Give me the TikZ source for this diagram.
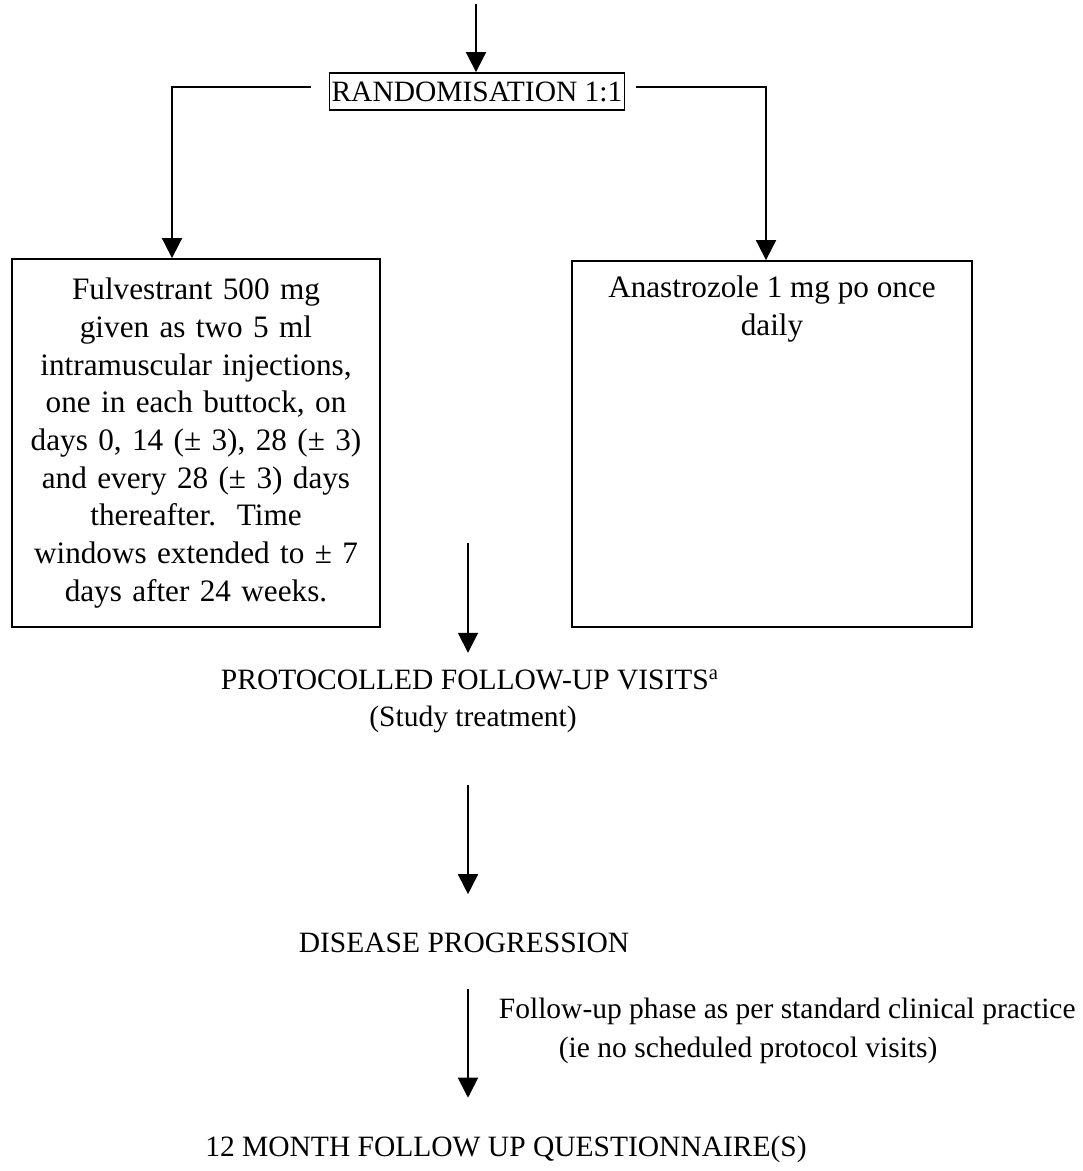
\documentclass[tikz,border=0pt]{standalone}
\usepackage{fontspec}
\setmainfont{Liberation Serif}
\usetikzlibrary{positioning,arrows.meta}

\begin{document}
\begin{tikzpicture}[x=0.5pt,y=-0.5pt,line width=0.9pt,
    >={Triangle[width=10pt,length=10pt]},
    every node/.style={font={\fontsize{14.75pt}{19pt}\selectfont},inner sep=0pt},
    randbox/.style={draw,inner xsep=1pt,minimum height=18.5pt},
    armbox/.style={draw,align=center,font={\fontsize{15.6pt}{18.85pt}\selectfont}}]
  \useasboundingbox (0,0) rectangle (1082,1171);
  \coordinate (entry) at (476,4);
  \node[randbox] (rand) at (477,91.5) {RANDOMISATION 1:1};
  \draw[->] (entry) -- (rand.north -| entry);
  \coordinate (lstub) at (311,87);
  \coordinate (rstub) at (636,87);
  \coordinate (lturn) at (172,87);
  \coordinate (rturn) at (766,87);
  \node[armbox,minimum width=184pt,minimum height=184pt,text width=176pt] (fulv) at (196,443)
    {Fulvestrant 500 mg\\ given as two 5 ml\\ intramuscular injections,\\ one in each buttock, on\\
     days 0, 14 (± 3), 28 (± 3)\\ and every 28 (± 3) days\\ thereafter.\ \ Time\\
     windows extended to ± 7\\ days after 24 weeks.};
  \node[draw,minimum width=200pt,minimum height=183pt] (anas) at (772,444) {};
  \node[armbox,draw=none] (anastext) at (772,309) {Anastrozole 1 mg po once\\ daily};
  \draw[->] (lstub) -- (lturn) -- (lturn |- fulv.north);
  \draw[->] (rstub) -- (rturn) -- (rturn |- anas.north);
  \coordinate (spine) at (468,543);
  \node (visits) at (470,680) {PROTOCOLLED FOLLOW-UP VISITS\textsuperscript{a}};
  \node (study) at (473,719) {(Study treatment)};
  \node (progress) at (464,943) {DISEASE PROGRESSION};
  \node (final) at (506,1149) {12 MONTH FOLLOW UP QUESTIONNAIRE(S)};
  \draw[->,shorten >=8pt] (spine) -- (visits.north -| spine);
  \draw[->,shorten <=26pt,shorten >=19pt] (study.south -| spine) -- (progress.north -| spine);
  \draw[->,shorten <=17.5pt,shorten >=18.5pt] (progress.south -| spine) -- (final.north -| spine);
  \node[anchor=west] (phase) at (498,1011) {Follow-up phase as per standard clinical practice};
  \node[anchor=west] (phasenote) at (558,1050) {(ie no scheduled protocol visits)};
\end{tikzpicture}
\end{document}
